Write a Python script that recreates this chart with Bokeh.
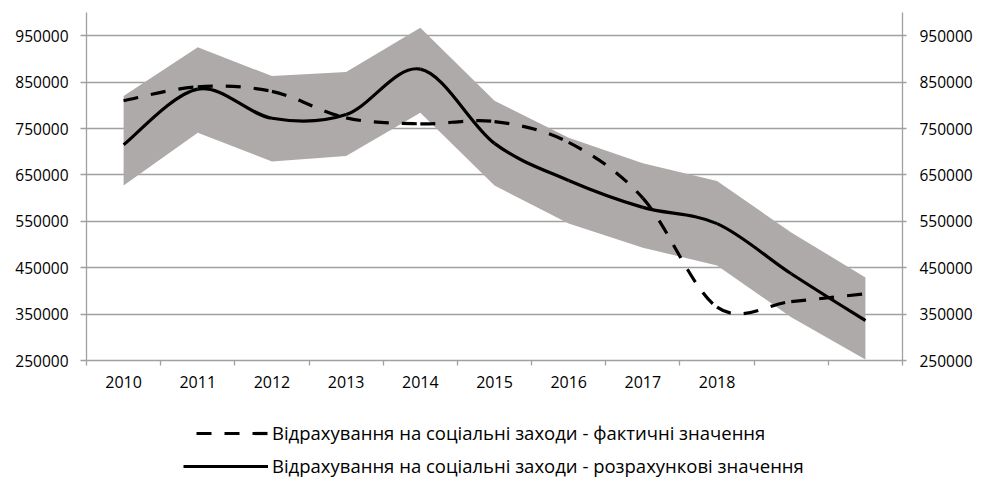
import numpy as np
from bokeh.plotting import figure
from bokeh.layouts import column
from bokeh.models import (Legend, LegendItem, LinearAxis, FixedTicker,
                          BasicTickFormatter, Range1d, ColumnDataSource)
from bokeh.embed import file_html
from bokeh.resources import INLINE

# ---- data ----
years = ["2010", "2011", "2012", "2013", "2014", "2015", "2016", "2017", "2018", "", ""]
actual = [810000, 840000, 830000, 773000, 760000, 765000, 720000, 600000, 365000, 377000, 394000]
calculated = [715000, 835000, 772000, 780000, 878000, 718000, 638000, 580000, 545000, 437000, 336000]
upper = [820000, 925000, 863000, 872000, 967000, 810000, 730000, 675000, 637000, 526000, 429000]
lower = [627000, 741000, 679000, 691000, 784000, 627000, 545000, 493000, 455000, 343000, 252000]
y_ticks = [250000, 350000, 450000, 550000, 650000, 750000, 850000, 950000]

label_actual = "Відрахування на соціальні заходи - фактичні значення"
label_calc = "Відрахування на соціальні заходи - розрахункові значення"

FONT = "Open Sans"
GRID = "#A0A0A0"
BAND = "#AEAAAA"
DASH = "15 13"
LW = 3.2

n = len(years)
xs = np.arange(n) + 0.5  # category centres


def bezier_source(vals):
    """Excel-style smoothed line: cubic Bezier segments through the data points."""
    x = np.asarray(xs, dtype=float)
    y = np.asarray(vals, dtype=float)
    xp = np.concatenate([[x[0]], x, [x[-1]]])
    yp = np.concatenate([[y[0]], y, [y[-1]]])
    i = np.arange(n - 1)
    cx0 = x[i] + (xp[i + 2] - xp[i]) / 6.0
    cy0 = y[i] + (yp[i + 2] - yp[i]) / 6.0
    cx1 = x[i + 1] - (xp[i + 3] - xp[i + 1]) / 6.0
    cy1 = y[i + 1] - (yp[i + 3] - yp[i + 1]) / 6.0
    return ColumnDataSource(dict(x0=x[:-1], y0=y[:-1], x1=x[1:], y1=y[1:],
                                 cx0=cx0, cy0=cy0, cx1=cx1, cy1=cy1))


W = 975
p = figure(width=W, height=400, output_backend="svg", toolbar_location=None,
           x_range=Range1d(0, n), y_range=Range1d(250000, 1000000),
           min_border_left=86, min_border_right=W - 904, min_border_top=12,
           min_border_bottom=40)
p.outline_line_color = None
p.background_fill_color = "white"
p.border_fill_color = "white"

# band between lower and upper bounds
p.varea(x=xs, y1=lower, y2=upper, fill_color=BAND)

p.bezier(x0="x0", y0="y0", x1="x1", y1="y1", cx0="cx0", cy0="cy0",
         cx1="cx1", cy1="cy1", source=bezier_source(actual),
         line_color="black", line_width=LW, line_dash=DASH)
p.bezier(x0="x0", y0="y0", x1="x1", y1="y1", cx0="cx0", cy0="cy0",
         cx1="cx1", cy1="cy1", source=bezier_source(calculated),
         line_color="black", line_width=LW)

# grid
p.xgrid.grid_line_color = None
p.ygrid.ticker = FixedTicker(ticks=y_ticks)
p.ygrid.grid_line_color = GRID
p.ygrid.grid_line_width = 1.3

# x axis: labels at category centres, tick marks between categories
xa = p.xaxis[0]
label_pos = [float(v) for v, t in zip(xs, years) if t]
xa.ticker = FixedTicker(ticks=label_pos, minor_ticks=list(range(n + 1)))
xa.major_label_overrides = {float(v): t for v, t in zip(xs, years) if t}
xa.major_tick_line_color = None
xa.major_tick_out = 0
xa.major_tick_in = 0
xa.minor_tick_line_color = GRID
xa.minor_tick_out = 5
xa.minor_tick_in = 0
xa.minor_tick_line_width = 1.3
xa.axis_line_color = GRID
xa.axis_line_width = 1.3
xa.major_label_text_font = FONT
xa.major_label_text_font_size = "16px"
xa.major_label_text_color = "black"
xa.major_label_standoff = 10


def style_y(ax, out, standoff):
    ax.ticker = FixedTicker(ticks=y_ticks)
    ax.formatter = BasicTickFormatter(use_scientific=False)
    ax.axis_line_color = GRID
    ax.axis_line_width = 1.3
    ax.major_tick_line_color = GRID
    ax.major_tick_line_width = 1.3
    ax.major_tick_out = out
    ax.major_tick_in = 0
    ax.minor_tick_line_color = None
    ax.major_label_text_font = FONT
    ax.major_label_text_font_size = "15.5px"
    ax.major_label_text_color = "black"
    ax.major_label_standoff = standoff


style_y(p.yaxis[0], 6, 12)
ra = LinearAxis()
style_y(ra, 4, 13)
p.add_layout(ra, "right")

# ---- legend panel below the chart ----
# the series are drawn here too, but lie far outside this panel's y range,
# so only their legend glyphs show
lg = figure(width=W, height=78, output_backend="svg", toolbar_location=None,
            x_range=Range1d(0, n), y_range=Range1d(0, 1),
            x_axis_type=None, y_axis_type=None, min_border=0)
lg.outline_line_color = None
lg.xgrid.visible = False
lg.ygrid.visible = False
lg_act = lg.line(x=xs, y=actual, line_color="black", line_width=LW,
                 line_dash=DASH, line_dash_offset=15)
lg_calc = lg.line(x=xs, y=calculated, line_color="black", line_width=LW)

legend = Legend(items=[LegendItem(label=label_actual, renderers=[lg_act]),
                       LegendItem(label=label_calc, renderers=[lg_calc])],
                location=(97, 0), orientation="vertical")
legend.border_line_color = None
legend.background_fill_alpha = 0
legend.margin = 0
legend.padding = 0
legend.spacing = 8
legend.label_height = 14
legend.glyph_height = 14
legend.glyph_width = 85
legend.label_standoff = 4
legend.label_text_font = FONT
legend.label_text_font_size = "18.5px"
legend.label_text_color = "black"
lg.add_layout(legend, "center")

page = column(p, lg, spacing=0)
open("out.html", "w").write(file_html(page, INLINE))
